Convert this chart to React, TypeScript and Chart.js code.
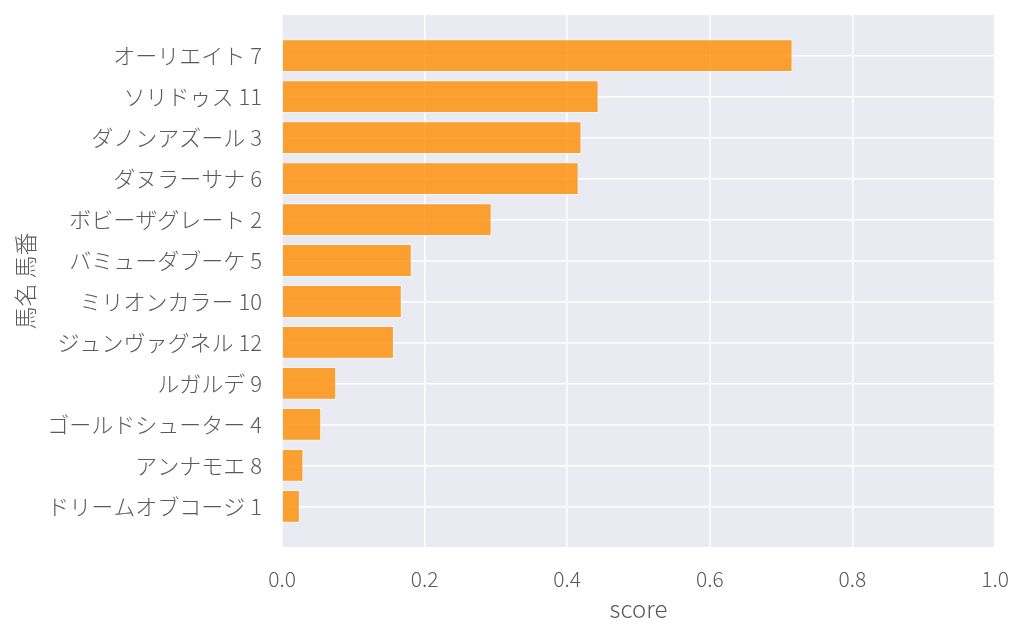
import { useEffect, useRef } from 'react';
import { Chart, registerables } from 'chart.js';

Chart.register(...registerables);

const horses = [
  'オーリエイト 7',
  'ソリドゥス 11',
  'ダノンアズール 3',
  'ダヌラーサナ 6',
  'ボビーザグレート 2',
  'バミューダブーケ 5',
  'ミリオンカラー 10',
  'ジュンヴァグネル 12',
  'ルガルデ 9',
  'ゴールドシューター 4',
  'アンナモエ 8',
  'ドリームオブコージ 1',
];
const scores = [0.716, 0.444, 0.42, 0.416, 0.294, 0.182, 0.168, 0.157, 0.076, 0.055, 0.03, 0.025];
const xTicks = [0, 0.2, 0.4, 0.6, 0.8, 1.0];

const FONT = '"Noto Sans CJK JP", "Noto Sans", sans-serif';
const TEXT = '#5a5a5a';

// paints the grey panel behind the grid
const panelBg = {
  id: 'panelBg',
  beforeDraw(chart: Chart) {
    const { ctx, chartArea } = chart;
    ctx.save();
    ctx.fillStyle = '#EAEAF2';
    ctx.fillRect(chartArea.left, chartArea.top, chartArea.right - chartArea.left, chartArea.bottom - chartArea.top);
    ctx.restore();
  },
};

export default function App() {
  const canvasRef = useRef<HTMLCanvasElement>(null);
  const chartRef = useRef<Chart | null>(null);

  useEffect(() => {
    document.body.style.margin = '0';
    if (!canvasRef.current) return;
    if (chartRef.current) chartRef.current.destroy();

    chartRef.current = new Chart(canvasRef.current, {
      type: 'bar',
      data: {
        datasets: [
          {
            label: 'score',
            data: scores.map((s, i) => ({ x: s, y: i })),
            backgroundColor: 'rgba(255,140,0,0.8)',
            borderColor: 'rgba(255,255,255,0.6)',
            borderWidth: 1,
            categoryPercentage: 1,
            barPercentage: 0.8,
          },
        ],
      },
      options: {
        indexAxis: 'y',
        animation: false,
        responsive: true,
        maintainAspectRatio: false,
        layout: { padding: { top: 15, right: 29, left: 0, bottom: 0 } },
        plugins: {
          legend: { display: false },
          tooltip: { enabled: false },
        },
        scales: {
          x: {
            type: 'linear',
            min: 0,
            max: 1,
            afterBuildTicks: (scale: any) => {
              scale.ticks = xTicks.map((v) => ({ value: v }));
            },
            afterFit: (scale: any) => {
              scale.height = 91;
              scale.paddingLeft = 0;
              scale.paddingRight = 0;
            },
            border: { display: false },
            grid: { color: '#ffffff', lineWidth: 1.6, drawTicks: false },
            ticks: {
              color: TEXT,
              padding: 19,
              font: { family: FONT, size: 21, weight: 300 },
              callback: (v: any) => Number(v).toFixed(1),
            },
            title: {
              display: true,
              text: 'score',
              color: TEXT,
              padding: { top: 0, bottom: 15 },
              font: { family: FONT, size: 24, weight: 300 },
            },
          },
          y: {
            type: 'linear',
            reverse: true,
            offset: false,
            min: -0.99,
            max: horses.length - 1 + 0.99,
            afterBuildTicks: (scale: any) => {
              scale.ticks = horses.map((_, i) => ({ value: i }));
            },
            afterFit: (scale: any) => {
              scale.width = 282;
              scale.paddingTop = 0;
              scale.paddingBottom = 0;
            },
            border: { display: false },
            grid: { color: '#ffffff', lineWidth: 1.6, drawTicks: false, offset: false },
            ticks: {
              color: TEXT,
              padding: 20,
              autoSkip: false,
              font: { family: FONT, size: 22, weight: 300 },
              callback: (v: any) => horses[Number(v)] ?? '',
            },
            title: {
              display: true,
              text: '馬名 馬番',
              color: TEXT,
              padding: { top: 11, bottom: 0 },
              font: { family: FONT, size: 23, weight: 300 },
            },
          },
        },
      },
      plugins: [panelBg],
    });

    return () => {
      if (chartRef.current) {
        chartRef.current.destroy();
        chartRef.current = null;
      }
    };
  }, []);

  return (
    <div style={{ width: 1024, height: 638, position: 'relative' }}>
      <canvas ref={canvasRef} />
    </div>
  );
}
